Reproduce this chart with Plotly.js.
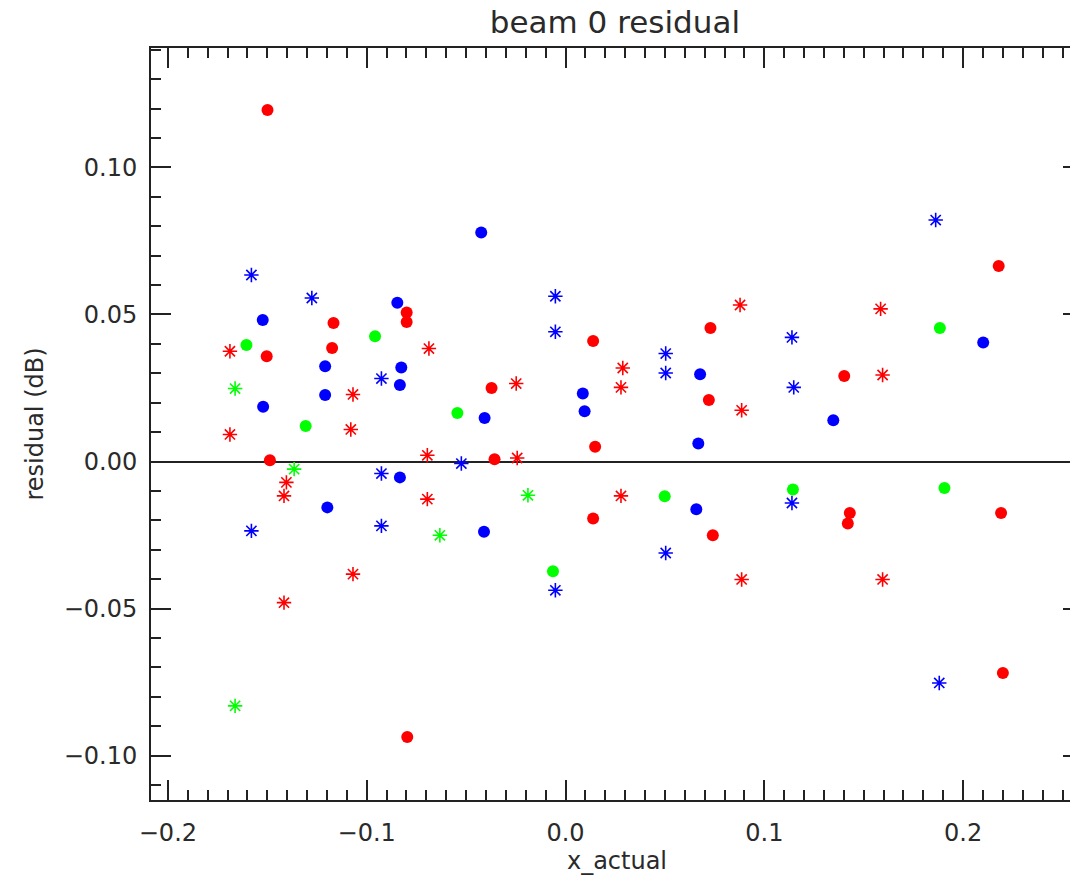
<!DOCTYPE html>
<html>
<head>
<meta charset="utf-8">
<script src="https://cdn.plot.ly/plotly-3.0.1.min.js"></script>
<style>
  html, body { margin: 0; padding: 0; background: #fff; overflow: hidden; }
  #chart { width: 1100px; height: 882px; }
</style>
</head>
<body>
<div id="chart"></div>
<script>
// ---- data ----
const redCircleX = [-0.1499, 0.2179, -0.0799, -0.0799, -0.1167, 0.0729, 0.0139, -0.1503, -0.1174, 0.1402, -0.0372, 0.0721, 0.0149, -0.1487, -0.0357, 0.1430, 0.1420, 0.2191, 0.0139, 0.0741, 0.2200, -0.0796];
const redCircleY = [0.1195, 0.0665, 0.0507, 0.0474, 0.0471, 0.0454, 0.0410, 0.0358, 0.0386, 0.0291, 0.0250, 0.0209, 0.0050, 0.0004, 0.0008, -0.0175, -0.0211, -0.0175, -0.0194, -0.0251, -0.0719, -0.0937];

const redStarX = [0.0878, 0.1585, -0.0687, -0.1688, 0.0288, 0.1595, -0.0248, 0.0279, -0.1069, 0.0886, -0.1080, -0.1688, -0.0695, -0.0243, -0.1404, -0.1416, -0.0695, 0.0279, -0.1069, 0.0886, 0.1595, -0.1416];
const redStarY = [0.0532, 0.0519, 0.0384, 0.0375, 0.0318, 0.0294, 0.0265, 0.0252, 0.0228, 0.0174, 0.0109, 0.0092, 0.0021, 0.0012, -0.0071, -0.0117, -0.0128, -0.0117, -0.0383, -0.0401, -0.0401, -0.0480];

const blueCircleX = [-0.0424, -0.0846, -0.1523, 0.2101, -0.1209, -0.0826, 0.0677, -0.0833, 0.0087, -0.1209, -0.1521, 0.0096, -0.0407, 0.1347, 0.0668, -0.0833, -0.1198, 0.0658, -0.0410];
const blueCircleY = [0.0779, 0.0540, 0.0481, 0.0405, 0.0324, 0.0320, 0.0297, 0.0260, 0.0231, 0.0226, 0.0186, 0.0171, 0.0148, 0.0140, 0.0061, -0.0054, -0.0156, -0.0162, -0.0239];

const blueStarX = [0.1862, -0.1580, -0.1276, -0.0051, -0.0051, 0.1139, 0.0504, 0.0504, -0.0926, 0.1148, -0.0524, -0.0926, 0.1139, -0.1580, -0.0926, 0.0504, -0.0051, 0.1880];
const blueStarY = [0.0821, 0.0634, 0.0556, 0.0562, 0.0441, 0.0422, 0.0367, 0.0301, 0.0282, 0.0252, -0.0007, -0.0041, -0.0141, -0.0236, -0.0219, -0.0311, -0.0438, -0.0753];

const greenCircleX = [0.1883, -0.0958, -0.1605, -0.0544, -0.1307, 0.0499, 0.1144, 0.1906, -0.0063];
const greenCircleY = [0.0454, 0.0426, 0.0396, 0.0165, 0.0121, -0.0118, -0.0095, -0.0090, -0.0373];

const greenStarX = [-0.1662, -0.1365, -0.0189, -0.0632, -0.1662];
const greenStarY = [0.0248, -0.0026, -0.0115, -0.0251, -0.0831];

const titleText = "beam 0 residual";
const xTitle = "x_actual";
const yTitle = "residual (dB)";

// ---- traces ----
function circles(x, y, color) {
  return { x, y, type: "scatter", mode: "markers", hoverinfo: "x+y",
    marker: { symbol: "circle", size: 12, color: color, line: { width: 0 } } };
}
function stars(x, y, color) {
  return { x, y, type: "scatter", mode: "markers", hoverinfo: "x+y",
    marker: { symbol: "asterisk-open", size: 12, color: color, line: { width: 1.6, color: color } } };
}

const traces = [
  circles(redCircleX, redCircleY, "#ff0000"),
  stars(redStarX, redStarY, "#ff0000"),
  circles(blueCircleX, blueCircleY, "#0000ff"),
  stars(blueStarX, blueStarY, "#0000ff"),
  circles(greenCircleX, greenCircleY, "#00ff00"),
  stars(greenStarX, greenStarY, "#00ff00")
];

const tickFont = { family: "DejaVu Sans, sans-serif", size: 24, color: "#2a2a2a" };
const labelFont = { family: "DejaVu Sans, sans-serif", size: 24, color: "#2a2a2a" };

const axisCommon = {
  showgrid: false,
  showline: true,
  linecolor: "#222",
  linewidth: 2,
  mirror: "ticks",
  ticks: "inside",
  tickcolor: "#222",
  tickwidth: 2,
  ticklen: 20,
  tickfont: tickFont
};

const layout = {
  width: 1100,
  height: 882,
  margin: { l: 151, r: 17, t: 48, b: 82 },
  paper_bgcolor: "#fff",
  plot_bgcolor: "#fff",
  showlegend: false,
  font: tickFont,
  title: { text: titleText, font: { family: "DejaVu Sans, sans-serif", size: 31, color: "#2a2a2a" },
           x: 0.559, xanchor: "center", y: 0.975, yanchor: "middle" },
  xaxis: Object.assign({}, axisCommon, {
    range: [-0.2085, 0.2603],
    dtick: 0.1, tick0: 0,
    tickformat: ".1f",
    zeroline: false,
    ticklabelstandoff: 10,
    minor: { dtick: 0.01, ticklen: 10, ticks: "inside", tickcolor: "#222", tickwidth: 2 },
    title: { text: xTitle, font: labelFont, standoff: 4 }
  }),
  yaxis: Object.assign({}, axisCommon, {
    range: [-0.1151, 0.1406],
    dtick: 0.05, tick0: 0,
    tickformat: ".2f",
    zeroline: true,
    zerolinecolor: "#222",
    zerolinewidth: 2,
    ticklabelstandoff: 7,
    minor: { dtick: 0.01, ticklen: 10, ticks: "inside", tickcolor: "#222", tickwidth: 2 },
    title: { text: yTitle, font: labelFont, standoff: 13 }
  })
};

Plotly.newPlot("chart", traces, layout, { displayModeBar: false, staticPlot: true });
</script>
</body>
</html>
